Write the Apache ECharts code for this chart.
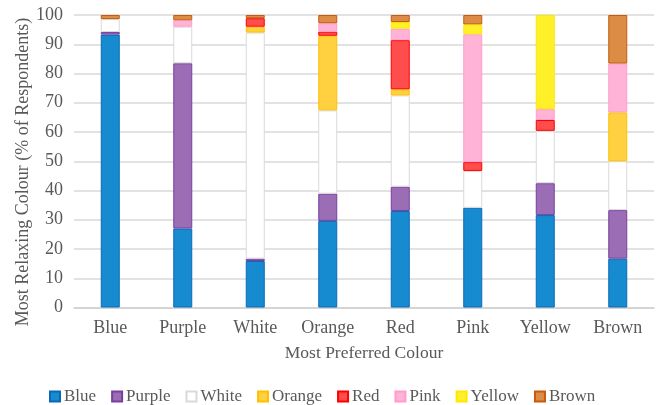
<!DOCTYPE html>
<html>
<head>
<meta charset="utf-8">
<script src="https://cdn.jsdelivr.net/npm/echarts@6/dist/echarts.min.js"></script>
<style>
  html, body { margin: 0; padding: 0; background: #fff; }
  #chart { width: 659px; height: 405px; }
</style>
</head>
<body>
<div id="chart"></div>
<script>
// Most preferred colour (x) vs. most relaxing colour (stacked %, y)
const categories = ['Blue', 'Purple', 'White', 'Orange', 'Red', 'Pink', 'Yellow', 'Brown'];
const yTicks = [0, 10, 20, 30, 40, 50, 60, 70, 80, 90, 100];

const blueVals   = [93.3, 27.0, 15.9, 29.6, 33.0, 34.1, 31.6, 16.7];
const purpleVals = [0.9, 56.5, 0.8, 9.3, 8.3, 0, 10.9, 16.6];
const whiteVals  = [4.4, 12.5, 77.3, 28.5, 31.2, 12.6, 17.9, 16.7];
const orangeVals = [0, 0, 2.0, 25.5, 2.1, 0, 0, 16.7];
const redVals    = [0, 0, 2.9, 1.4, 16.8, 3.0, 3.7, 0];
const pinkVals   = [0, 2.2, 0, 2.9, 3.9, 43.7, 3.7, 16.7];
const yellowVals = [0, 0, 0, 0, 2.3, 3.4, 32.2, 0];
const brownVals  = [1.4, 1.8, 1.1, 2.8, 2.4, 3.2, 0, 16.6];

const FONT = '"Liberation Serif", "DejaVu Serif", serif';
const TEXT = '#595959';

const seriesDefs = [
  { name: 'Blue',   data: blueVals,   fill: '#168bd0', border: '#0a68b8' },
  { name: 'Purple', data: purpleVals, fill: '#9a6db5', border: '#7a3f9e' },
  { name: 'White',  data: whiteVals,  fill: '#ffffff', border: '#d9d9d9' },
  { name: 'Orange', data: orangeVals, fill: '#ffd03f', border: '#ffc000' },
  { name: 'Red',    data: redVals,    fill: '#ff4c4c', border: '#ff0000' },
  { name: 'Pink',   data: pinkVals,   fill: '#ffb4d7', border: '#ff9ccb' },
  { name: 'Yellow', data: yellowVals, fill: '#fff02a', border: '#ffe800' },
  { name: 'Brown',  data: brownVals,  fill: '#dc8c45', border: '#c55a11' }
];

const chart = echarts.init(document.getElementById('chart'), null, { renderer: 'canvas' });

chart.setOption({
  animation: false,
  backgroundColor: '#ffffff',
  textStyle: { fontFamily: FONT, color: TEXT },
  grid: { left: 74, right: 5, top: 15, bottom: 97.5, containLabel: false },
  legend: {
    data: categories,
    left: 44,
    top: 383,
    itemWidth: 10,
    itemHeight: 10,
    itemGap: 15,
    icon: 'rect',
    textStyle: { fontFamily: FONT, fontSize: 17, color: TEXT, padding: [0, 0, 0, -1] }
  },
  xAxis: {
    type: 'category',
    data: categories,
    name: 'Most Preferred Colour',
    nameLocation: 'middle',
    nameGap: 37,
    nameTextStyle: { fontFamily: FONT, fontSize: 17.5, color: TEXT },
    axisTick: { show: false },
    axisLine: { show: true, lineStyle: { color: '#d0d0d0', width: 1.5 } },
    axisLabel: { fontFamily: FONT, fontSize: 18, color: TEXT, margin: 12 }
  },
  yAxis: {
    type: 'value',
    min: yTicks[0],
    max: yTicks[yTicks.length - 1],
    interval: 10,
    axisLine: { show: false },
    axisTick: { show: false },
    splitLine: { lineStyle: { color: '#d9d9d9', width: 1.5 } },
    axisLabel: { fontFamily: FONT, fontSize: 18, color: TEXT, margin: 11 }
  },
  graphic: [{
    type: 'text',
    x: 23,
    y: 172,
    rotation: Math.PI / 2,
    style: {
      text: 'Most Relaxing Colour (% of Respondents)',
      font: '18px ' + FONT,
      fill: TEXT,
      align: 'center',
      verticalAlign: 'middle'
    }
  }],
  series: seriesDefs.map(s => ({
    name: s.name,
    type: 'bar',
    stack: 'total',
    barWidth: 19,
    data: s.data.map(v => (v > 0 ? v : '-')),
    itemStyle: { color: s.fill, borderColor: s.border, borderWidth: 1 },
    emphasis: { disabled: true }
  }))
});
</script>
</body>
</html>
